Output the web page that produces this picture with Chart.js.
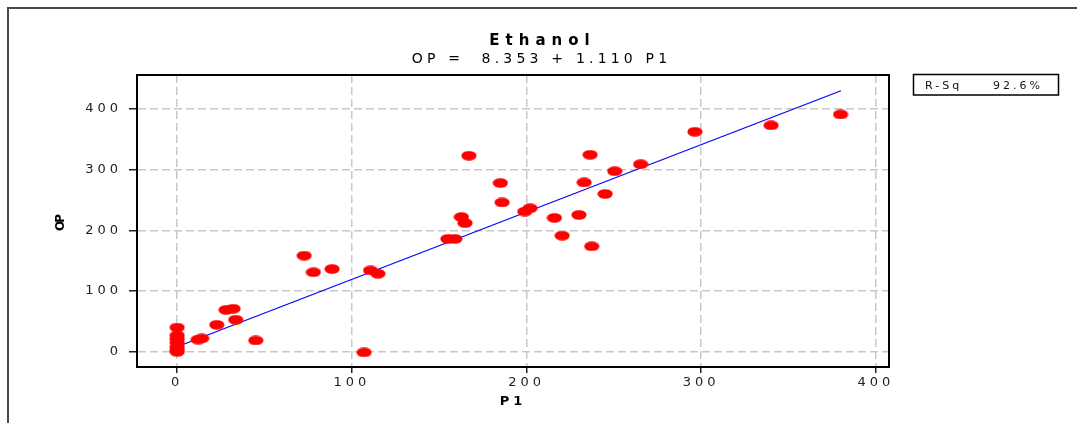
<!DOCTYPE html>
<html><head><meta charset="utf-8">
<script src="https://cdn.jsdelivr.net/npm/chart.js@4.4.1/dist/chart.umd.min.js"></script>
<style>html,body{margin:0;padding:0;background:#fff;overflow:hidden}#wrap{width:1077px;height:423px;position:relative}</style>
</head><body><div id="wrap"><canvas id="c" width="1077" height="423"></canvas></div>
<script>
const titleText = 'Ethanol';
const subtitleText = 'OP =  8.353 + 1.110 P1';
const xTitle = 'P1';
const yTitle = 'OP';
const rsqLabel = 'R-Sq';
const rsqValue = '92.6%';

const p1 = [0, 0, 0, 0, 0, 0, 0, 12, 14, 22.7, 28, 32, 33.5, 45, 107, 72.7, 78, 88.7, 110.7, 114.9, 155, 159, 162.7, 164.8, 167, 185, 186, 199, 202, 216, 220.4, 230, 233, 236.4, 237.3, 245, 250.5, 265.3, 296.4, 340, 379.8];
const op = [40, 27, 21, 15, 8, 3, 0, 20, 22, 44.4, 69, 71, 52.8, 18.7, -1, 158.4, 131, 136.4, 134, 128.7, 186, 186, 222, 212, 323, 278, 246, 231, 236.5, 220.6, 191.4, 225.5, 279, 324.6, 173.8, 260, 297.5, 309, 362.5, 373, 391];

const fitX = [0, 380];
const fitY = [8.4, 430];

const xTicks = [0, 100, 200, 300, 400];
const xTickLabels = ['0', '100', '200', '300', '400'];
const yTicks = [0, 100, 200, 300, 400];
const yTickLabels = ['0', '100', '200', '300', '400'];

const dot = document.createElement('canvas');
dot.width = 16; dot.height = 10;
(function(){ const g = dot.getContext('2d'); g.fillStyle = '#ff0000'; g.beginPath(); g.ellipse(8, 5, 7.6, 4.8, 0, 0, Math.PI * 2); g.fill(); })();

const FONT = "'DejaVu Sans', Verdana, sans-serif";

function spacedText(ctx, text, x, y, spacing, align) {
  ctx.letterSpacing = spacing + 'px';
  const w = ctx.measureText(text).width - spacing;
  let sx = x;
  if (align === 'center') sx = x - w / 2;
  else if (align === 'right') sx = x - w;
  ctx.textAlign = 'left';
  ctx.fillText(text, sx, y);
}

const spacingPlugin = {
  id: 'spacing',
  beforeUpdate(chart) { chart.ctx.letterSpacing = '4px'; },
  beforeDraw(chart) { chart.ctx.letterSpacing = '4px'; }
};

const decorPlugin = {
  id: 'decor',
  afterDraw(chart) {
    const ctx = chart.ctx;
    const a = chart.chartArea;
    ctx.save();
    // outer frame
    ctx.fillStyle = '#4a4a4a';
    ctx.fillRect(7, 7, 1070, 2);
    ctx.fillRect(7, 7, 2, 416);
    // plot box
    ctx.strokeStyle = '#000';
    ctx.lineWidth = 2;
    ctx.strokeRect(a.left, a.top, a.right - a.left, a.bottom - a.top);
    // titles
    ctx.fillStyle = '#000';
    ctx.textBaseline = 'alphabetic';
    ctx.font = 'bold 15px ' + FONT;
    spacedText(ctx, titleText, 539.5, 44.5, 6, 'center');
    ctx.font = '14px ' + FONT;
    spacedText(ctx, subtitleText, 539.5, 62.5, 4.2, 'center');
    // y axis title
    ctx.save();
    ctx.translate(60.5, (a.top + a.bottom) / 2 + 1.5);
    ctx.rotate(-Math.PI / 2);
    ctx.font = 'bold 12px ' + FONT;
    ctx.textBaseline = 'middle';
    spacedText(ctx, yTitle, 0, 0, -2, 'center');
    ctx.restore();
    // R-Sq box
    ctx.lineWidth = 1.5;
    ctx.strokeRect(913.5, 74.5, 145, 20.5);
    ctx.font = '11px ' + FONT;
    ctx.fillStyle = '#111';
    spacedText(ctx, rsqLabel, 925, 89, 3, 'left');
    spacedText(ctx, rsqValue, 1040, 89, 3, 'right');
    ctx.restore();
  }
};

new Chart(document.getElementById('c'), {
  type: 'scatter',
  data: {
    datasets: [
      {
        label: 'OP',
        data: p1.map((x, i) => ({ x: x, y: op[i] })),
        pointStyle: dot,
        pointRadius: 6,
        pointHoverRadius: 6,
        backgroundColor: '#ff0000',
        borderColor: '#ff0000'
      },
      {
        label: 'Fit',
        type: 'line',
        data: fitX.map((x, i) => ({ x: x, y: fitY[i] })),
        showLine: true,
        borderColor: '#0000ff',
        borderWidth: 1.2,
        pointRadius: 0,
        fill: false,
        tension: 0
      }
    ]
  },
  options: {
    responsive: false,
    animation: false,
    devicePixelRatio: 1,
    layout: { padding: { top: 75, right: 188, bottom: 0, left: 0 } },
    plugins: { legend: { display: false }, title: { display: false }, tooltip: { enabled: false } },
    scales: {
      x: {
        type: 'linear',
        min: -23,
        max: 407.5,
        afterBuildTicks: (s) => { s.ticks = xTicks.map(v => ({ value: v })); },
        afterFit: (s) => { s.height = 56; },
        ticks: {
          callback: (v) => xTickLabels[xTicks.indexOf(v)],
          font: { family: FONT, size: 13 },
          color: '#222',
          padding: 2,
          maxRotation: 0,
          autoSkip: false
        },
        grid: {
          color: '#c8c8c8',
          lineWidth: 1.5,
          tickLength: 6,
          tickColor: '#222',
          tickWidth: 1.5,
          tickBorderDash: []
        },
        border: { display: true, color: '#000', width: 2, dash: [8, 4] },
        title: { display: true, text: xTitle, font: { family: FONT, size: 13, weight: 'bold' }, color: '#000', padding: { top: 0, bottom: 14 } }
      },
      y: {
        type: 'linear',
        min: -25,
        max: 456,
        afterBuildTicks: (s) => { s.ticks = yTicks.map(v => ({ value: v })); },
        afterFit: (s) => { s.width = 137; },
        ticks: {
          callback: (v) => yTickLabels[yTicks.indexOf(v)],
          font: { family: FONT, size: 13 },
          color: '#222',
          padding: 7,
          autoSkip: false
        },
        grid: {
          color: '#c8c8c8',
          lineWidth: 1.5,
          tickLength: 8,
          tickColor: '#222',
          tickWidth: 1.5,
          tickBorderDash: []
        },
        border: { display: true, color: '#000', width: 2, dash: [8, 4] },
        title: { display: false, text: yTitle }
      }
    }
  },
  plugins: [spacingPlugin, decorPlugin]
});
</script>
</body></html>
